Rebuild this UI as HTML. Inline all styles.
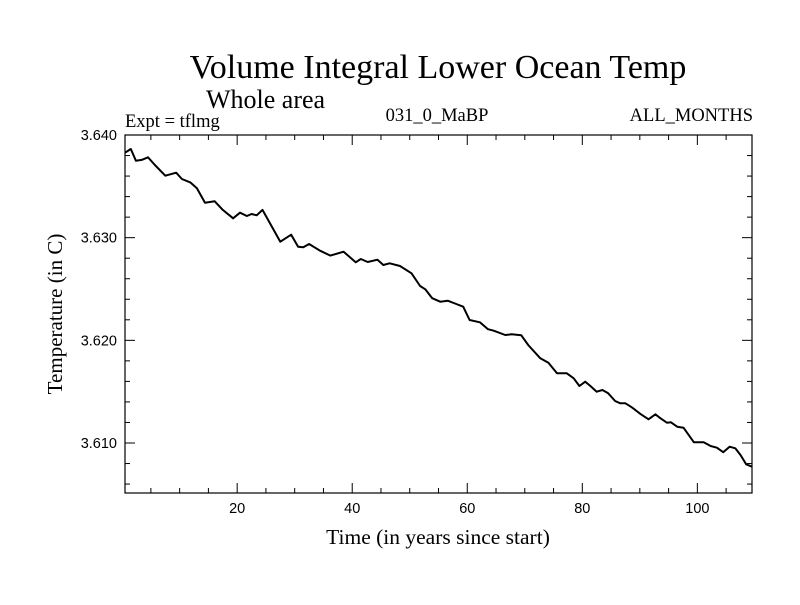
<!DOCTYPE html>
<html><head><meta charset="utf-8"><style>
body{margin:0;background:#fff}
svg text{fill:#000}
.serif{font-family:"Liberation Serif",serif}
.sans{font-family:"Liberation Sans",sans-serif}
</style></head><body>
<svg id="chart" width="800" height="600" xmlns="http://www.w3.org/2000/svg">
<rect width="800" height="600" fill="#fff"/>
<text class="serif" x="438" y="78" font-size="34" text-anchor="middle">Volume Integral Lower Ocean Temp</text>
<text class="serif" x="206" y="108" font-size="26">Whole area</text>
<text class="serif" x="125" y="127" font-size="18.5">Expt = tflmg</text>
<text class="serif" x="437" y="121" font-size="18.5" text-anchor="middle">031_0_MaBP</text>
<text class="serif" x="753" y="121" font-size="18.5" text-anchor="end">ALL_MONTHS</text>
<text class="serif" x="438" y="544" font-size="21.5" text-anchor="middle">Time (in years since start)</text>
<text class="serif" transform="translate(62,314) rotate(-90)" font-size="21" text-anchor="middle">Temperature (in C)</text>
<g id="axes"></g>
<g id="series"></g>
</svg>
<script>
const years=[0.5,1.5,2.4,3.4,4.5,5.7,7.5,9.4,10.4,11.9,13,14.4,16.1,17.5,19.3,20.5,21.7,22.5,23.4,24.4,27.5,29.4,30.6,31.5,32.5,34.4,36.2,38.5,40.6,41.5,42.7,44.4,45.4,46.5,48.3,50.3,51.8,52.7,53.9,55.3,56.6,58.1,59.3,60.4,62.2,63.6,64.6,66.6,67.7,69.4,70.6,72.7,74.1,75.6,77.3,78.5,79.5,80.5,81.4,82.5,83.5,84.5,85.7,86.6,87.5,88.6,90.1,91.5,92.7,93.6,94.7,95.4,96.5,97.6,99.4,101.1,102.3,103.4,104.5,105.6,106.6,107.5,108.5,109.5];
const temps=[3.63828,3.63864,3.63750,3.63757,3.63783,3.63708,3.63604,3.63633,3.63571,3.63536,3.63481,3.63341,3.63354,3.63270,3.63189,3.63243,3.63211,3.63231,3.63218,3.63270,3.62961,3.63029,3.62912,3.62906,3.62938,3.62873,3.62825,3.62863,3.62760,3.62792,3.62763,3.62785,3.62734,3.62750,3.62724,3.62653,3.62529,3.62497,3.62410,3.62376,3.62386,3.62354,3.62328,3.62198,3.62176,3.62108,3.62094,3.62052,3.62059,3.62049,3.61955,3.61825,3.61782,3.61679,3.61679,3.61630,3.61555,3.61597,3.61555,3.61500,3.61516,3.61484,3.61409,3.61387,3.61387,3.61348,3.61283,3.61231,3.61280,3.61241,3.61198,3.61202,3.61159,3.61149,3.61007,3.61007,3.60971,3.60954,3.60910,3.60964,3.60948,3.60883,3.60793,3.60769];
const xTickLabels=["20","40","60","80","100"];
const yTickLabels=["3.610","3.620","3.630","3.640"];
const X0=125,X1=752,Y0=135,Y1=493,xmin=0.5,xmax=109.5,ymax=3.640,ymin=3.60513;
const xs=t=>X0+(t-xmin)/(xmax-xmin)*(X1-X0);
const ys=v=>Y0+(ymax-v)/(ymax-ymin)*(Y1-Y0);
const NS="http://www.w3.org/2000/svg";
const axes=document.getElementById('axes');
function mk(tag,attrs,parent){const e=document.createElementNS(NS,tag);for(const k in attrs)e.setAttribute(k,attrs[k]);parent.appendChild(e);return e;}
const frame=mk('rect',{x:X0,y:Y0,width:X1-X0,height:Y1-Y0,fill:'none',stroke:'#000','stroke-width':1.2},axes);


for(let t=5;t<=xmax;t+=5){
  const major=t%20===0,L=major?10:5,x=xs(t);
  const a=mk('line',{x1:x,x2:x,y1:Y1,y2:Y1-L,stroke:'#000'},axes);
  
  
  const b=mk('line',{x1:x,x2:x,y1:Y0,y2:Y0+L,stroke:'#000'},axes);
  
  
}
xTickLabels.forEach(s=>{
  const tx=mk('text',{x:xs(+s),y:513,'font-size':14.5,'text-anchor':'middle',class:'sans'},axes);
  tx.textContent=s;
  
  
});
for(let i=0;;i++){
  const v=ymax-i*0.002; if(v<ymin) break;
  const major=i%5===0,L=major?10:5,y=ys(v);
  const a=mk('line',{x1:X0,x2:X0+L,y1:y,y2:y,stroke:'#000'},axes);
  
  
  const b=mk('line',{x1:X1,x2:X1-L,y1:y,y2:y,stroke:'#000'},axes);
  
  
}
yTickLabels.forEach(s=>{
  const tx=mk('text',{x:117,y:ys(+s)+5,'font-size':14.5,'text-anchor':'end',class:'sans'},axes);
  tx.textContent=s;
  
  
});
const d=years.map((t,i)=>(i?'L':'M')+xs(t).toFixed(1)+','+ys(temps[i]).toFixed(1)).join('');
const p=mk('path',{d:d,fill:'none',stroke:'#000','stroke-width':2,'stroke-linejoin':'round'},document.getElementById('series'));


</script>
</body></html>
